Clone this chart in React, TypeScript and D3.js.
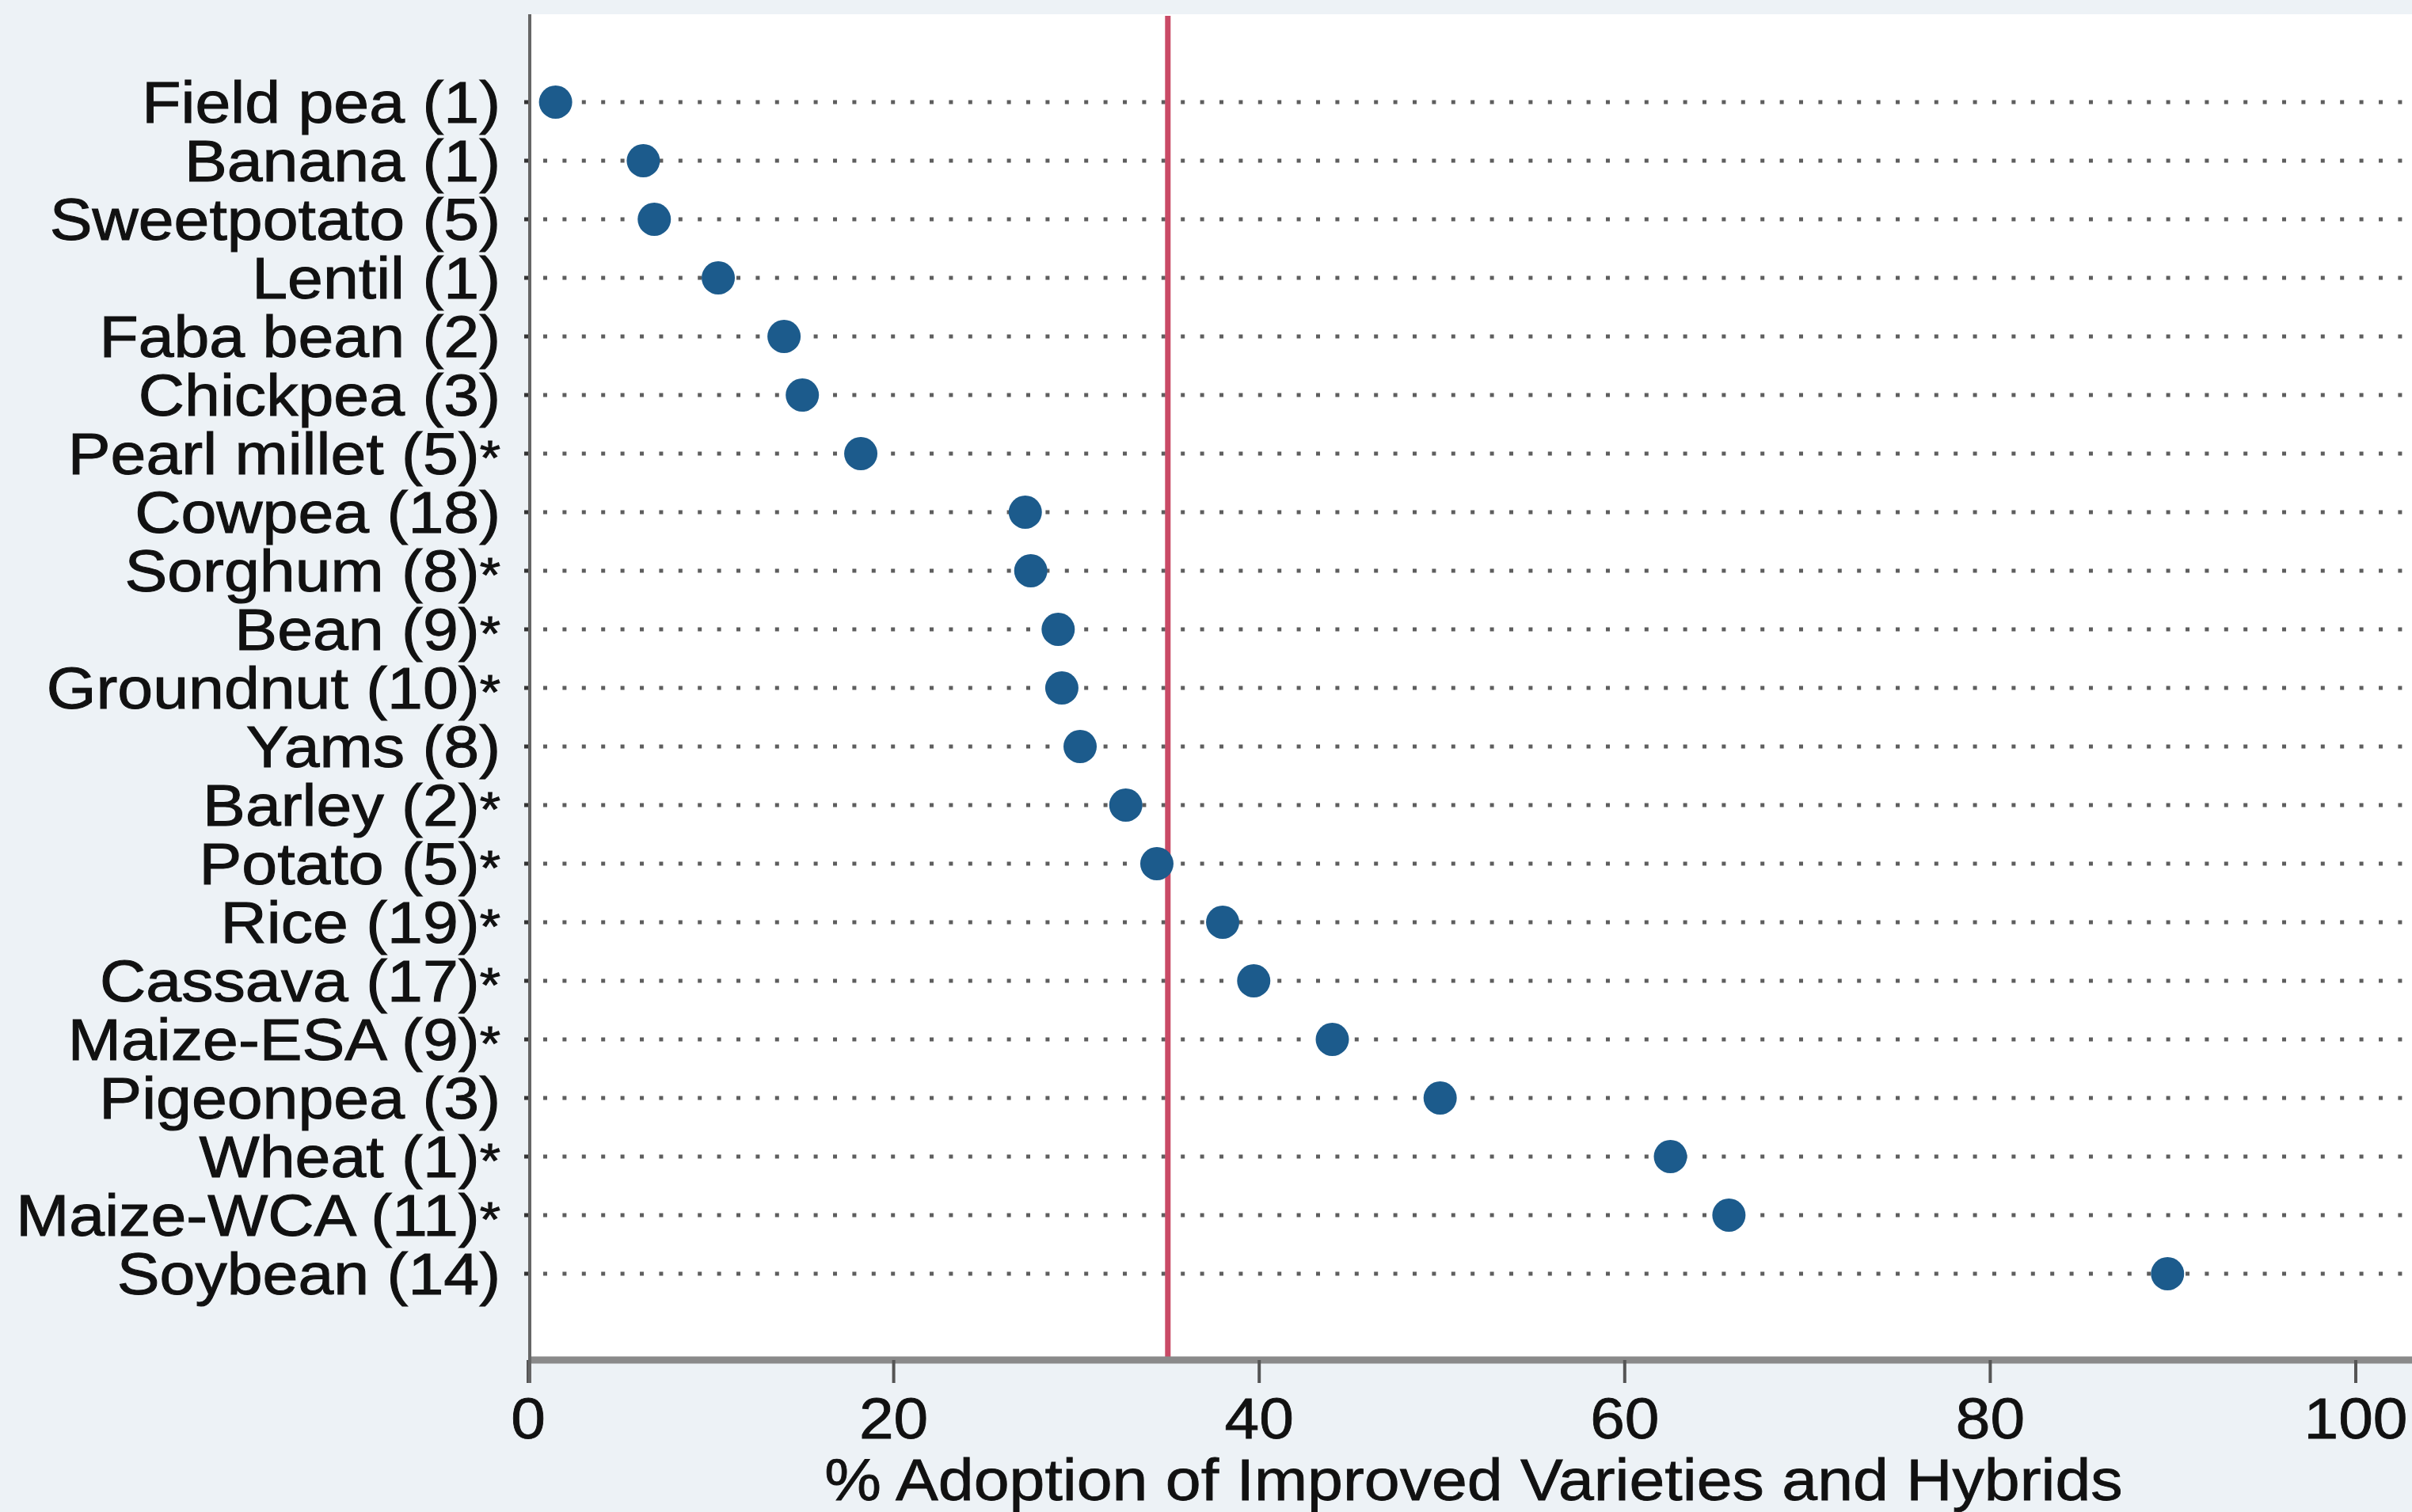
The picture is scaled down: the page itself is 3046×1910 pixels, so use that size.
import React from "react";
import * as d3 from "d3";

const crops = [
  "Field pea (1)",
  "Banana (1)",
  "Sweetpotato (5)",
  "Lentil (1)",
  "Faba bean (2)",
  "Chickpea (3)",
  "Pearl millet (5)*",
  "Cowpea (18)",
  "Sorghum (8)*",
  "Bean (9)*",
  "Groundnut (10)*",
  "Yams (8)",
  "Barley (2)*",
  "Potato (5)*",
  "Rice (19)*",
  "Cassava (17)*",
  "Maize-ESA (9)*",
  "Pigeonpea (3)",
  "Wheat (1)*",
  "Maize-WCA (11)*",
  "Soybean (14)",
];

const adoption = [
  1.5, 6.3, 6.9, 10.4, 14.0, 15.0, 18.2, 27.2, 27.5, 29.0, 29.2, 30.2, 32.7,
  34.4, 38.0, 39.7, 44.0, 49.9, 62.5, 65.7, 89.7,
];

const xTicks = [0, 20, 40, 60, 80, 100];
const referenceValue = 35;
const xTitle = "% Adoption of Improved Varieties and Hybrids";

const W = 3046;
const H = 1910;
const plotLeft = 667;
const plotRight = 3055;
const plotTop = 18;
const axisY = 1718;
const FONT = "'Liberation Sans', Arial, Helvetica, sans-serif";
const SX = 1.09;

export default function App() {
  const x = d3.scaleLinear().domain([0, 100]).range([667, 2975]);
  const y = d3.scalePoint<string>().domain(crops).range([129, 1609]);

  const labelSize = 74;
  const capHalf = labelSize * 0.716 * 0.5;

  const renderLabel = (c: string) => {
    if (c.endsWith("*")) {
      return (
        <>
          {c.slice(0, -1)}
          <tspan fontSize={62}>*</tspan>
        </>
      );
    }
    return c;
  };

  return (
    <svg
      width={W}
      height={H}
      viewBox={`0 0 ${W} ${H}`}
      style={{ position: "absolute", left: 0, top: 0, display: "block" }}
    >
      <rect x={0} y={0} width={W} height={H} fill="#edf2f6" />
      <rect
        x={plotLeft}
        y={plotTop}
        width={plotRight - plotLeft}
        height={axisY - plotTop}
        fill="#ffffff"
      />

      {/* dotted row guides */}
      {crops.map((c) => (
        <g key={"g" + c}>
          <line
            x1={plotLeft - 5}
            x2={plotLeft + 2}
            y1={y(c)!}
            y2={y(c)!}
            stroke="#333"
            strokeWidth={5}
          />
          <line
            x1={plotLeft + 19}
            x2={W}
            y1={y(c)!}
            y2={y(c)!}
            stroke="#5e5e5e"
            strokeWidth={5}
            strokeDasharray="5 19.4"
          />
        </g>
      ))}

      {/* reference line */}
      <line
        x1={x(referenceValue)}
        x2={x(referenceValue)}
        y1={plotTop + 2}
        y2={axisY - 4}
        stroke="#c94a66"
        strokeWidth={7}
      />

      {/* points */}
      {crops.map((c, i) => (
        <circle
          key={"p" + c}
          cx={x(adoption[i])}
          cy={y(c)!}
          r={21}
          fill="#1c5b8c"
        />
      ))}

      {/* x axis */}
      <line
        x1={plotLeft}
        x2={W}
        y1={axisY}
        y2={axisY}
        stroke="#8a8a8a"
        strokeWidth={9}
      />
      {xTicks.map((t) => (
        <g key={"t" + t}>
          <line
            x1={x(t)}
            x2={x(t)}
            y1={axisY}
            y2={1747}
            stroke="#555"
            strokeWidth={4}
          />
          <text
            transform={`translate(${x(t)},1817) scale(${SX},1)`}
            textAnchor="middle"
            fontFamily={FONT}
            fontSize={72}
            fill="#111"
            stroke="#111"
            strokeWidth={0.8}
          >
            {t}
          </text>
        </g>
      ))}

      {/* y axis */}
      <line
        x1={plotLeft + 2}
        x2={plotLeft + 2}
        y1={plotTop}
        y2={1747}
        stroke="#666"
        strokeWidth={4}
      />

      {/* category labels */}
      {crops.map((c) => (
        <text
          key={"l" + c}
          transform={`translate(632,${y(c)! + capHalf}) scale(${SX},1)`}
          textAnchor="end"
          fontFamily={FONT}
          fontSize={labelSize}
          fill="#111"
          stroke="#111"
          strokeWidth={1}
        >
          {renderLabel(c)}
        </text>
      ))}

      {/* x title */}
      <text
        transform={`translate(${(plotLeft + plotRight) / 2},1895) scale(${SX},1)`}
        textAnchor="middle"
        fontFamily={FONT}
        fontSize={74}
        fill="#111"
        stroke="#111"
        strokeWidth={0.8}
      >
        {xTitle}
      </text>
    </svg>
  );
}
